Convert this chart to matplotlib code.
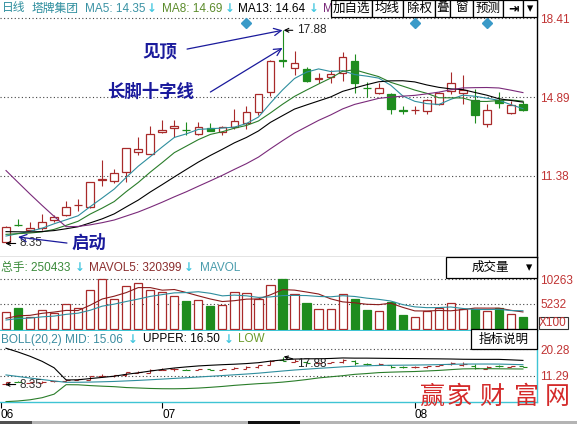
import numpy as np
import pandas as pd
import matplotlib
matplotlib.use("Agg")
import matplotlib.pyplot as plt
from matplotlib.patches import Rectangle

plt.rcParams['font.family'] = ['Liberation Sans', 'Noto Sans CJK SC', 'DejaVu Sans']

# ---------------- data ----------------
# daily OHLC of 塔牌集团 (visible window)
opens = [8.43, 9.19, 8.95, 9.03, 9.40, 9.62, 10.05, 9.99, 11.21, 11.14, 11.56, 12.43, 12.35, 13.32, 13.53,
         13.43, 13.23, 13.50, 13.33, 13.57, 13.72, 14.21, 15.11, 16.55, 16.18, 16.15, 15.72, 15.81, 15.98,
         16.52, 15.30, 15.09, 15.03, 14.30, 14.31, 14.29, 14.57, 15.18, 15.06, 14.76, 13.68, 14.76, 14.17, 14.58]
highs = [9.13, 9.44, 9.32, 9.65, 9.62, 10.25, 10.33, 11.11, 12.08, 11.68, 12.63, 13.10, 13.60, 13.87, 13.89,
         13.79, 13.79, 13.75, 13.59, 14.35, 14.50, 15.03, 16.53, 17.88, 16.95, 16.25, 15.96, 16.10, 16.90,
         16.82, 15.58, 15.54, 15.08, 14.51, 14.51, 14.81, 15.12, 16.00, 15.88, 15.24, 14.57, 15.11, 14.72, 14.72]
lows = [8.35, 9.15, 8.91, 8.95, 9.31, 9.59, 9.80, 9.93, 10.92, 11.05, 11.11, 12.31, 12.33, 13.29, 13.09,
        13.20, 13.20, 13.36, 13.20, 13.47, 13.47, 14.09, 14.94, 16.23, 15.88, 15.55, 15.54, 15.51, 15.63,
        15.09, 14.88, 15.02, 14.13, 14.14, 14.13, 14.13, 14.55, 15.03, 14.57, 13.72, 13.54, 14.42, 14.16, 14.27]
closes = [9.10, 9.17, 9.06, 9.30, 9.52, 9.99, 10.08, 11.09, 11.24, 11.51, 12.61, 12.57, 13.23, 13.42, 13.62,
          13.41, 13.57, 13.38, 13.57, 13.83, 14.21, 15.02, 16.51, 16.49, 16.40, 15.63, 15.74, 15.93, 16.67,
          15.54, 15.28, 15.29, 14.35, 14.28, 14.33, 14.76, 15.09, 15.51, 15.21, 14.09, 14.32, 14.62, 14.54, 14.32]
# closes before the window (unadjusted, before ex-rights) used to seed the averages
prior_closes = [19.73, 19.53, 19.43, 19.33, 19.23, 9.83, 9.69, 9.28, 9.13, 9.05, 8.98, 8.93, 8.91, 8.85,
                8.89, 8.63, 8.55, 8.61, 8.53]

# volume in units of 100 lots
volumes = [3483, 4420, 2587, 3890, 3280, 5174, 4298, 8026, 10180, 6131, 8841, 9391, 8026, 7557, 6804,
           5785, 5989, 4828, 4970, 7680, 7354, 6193, 9044, 10263, 7150, 5439, 4155, 4155, 7150, 6193,
           3952, 3748, 5642, 2933, 2587, 3809, 4298, 5317, 4155, 4155, 3748, 4298, 3076, 2504]
prior_volumes = [1500, 1600, 1450, 1700, 1650, 1900, 2050, 1850, 2000]

price_ticks = [18.41, 14.89, 11.38]
volume_ticks = [10263, 5232]
boll_ticks = [20.28, 11.29]
month_ticks = [-0.42, 13, 34]
month_labels = ['06', '07', '08']
event_days = [20, 34, 40]

# ---------------- colours ----------------
RED = '#a82a2a'
GREEN = '#1e8c1e'
AX_RED = '#c03434'
TEAL = '#2e8e9e'
MA8_GREEN = '#2a7d2a'
PURPLE = '#7a2a7a'
NOTE_BLUE = '#1a1a9c'
CYAN = '#3fc4d4'
ARROW_CYAN = '#46c8e0'

n = len(closes)
idx = np.arange(n)
o_arr, h_arr, l_arr, c_arr = map(np.asarray, (opens, highs, lows, closes))
up = c_arr >= o_arr

full_close = pd.Series(prior_closes + closes, dtype=float)
ma = {p: full_close.rolling(p).mean().to_numpy()[-n:] for p in (5, 8, 13, 20)}
std20 = full_close.rolling(20).std(ddof=0).to_numpy()[-n:]
boll_mid = ma[20]
boll_up = boll_mid + 2 * std20
boll_low = boll_mid - 2 * std20

full_vol = pd.Series(prior_volumes + volumes, dtype=float)
mavol5 = full_vol.rolling(5).mean().to_numpy()[-n:]
mavol10 = full_vol.rolling(10).mean().to_numpy()[-n:]

# ---------------- figure ----------------
W, H = 577, 424
fig = plt.figure(figsize=(W / 100, H / 100), dpi=100)
fig.patch.set_facecolor('white')


def add_axes_px(x0, y0, x1, y1):
    return fig.add_axes([x0 / W, 1 - y1 / H, (x1 - x0) / W, (y1 - y0) / H])


def ftext(px, py, s, **kw):
    kw.setdefault('va', 'center')
    kw.setdefault('ha', 'left')
    kw.setdefault('fontsize', 8.5)
    return fig.text(px / W, 1 - py / H, s, **kw)


def fbox(x0, y0, x1, y1, **kw):
    r = Rectangle((x0 / W, 1 - y1 / H), (x1 - x0) / W, (y1 - y0) / H,
                  transform=fig.transFigure, **kw)
    fig.add_artist(r)
    return r


XLIM = (-0.5, 44.17)
BW = 0.64


def style_axes(ax, ticks, labels, right_color='black', bottom_color='black'):
    ax.set_xlim(*XLIM)
    for s in ('top', 'left'):
        ax.spines[s].set_visible(False)
    ax.spines['right'].set_color(right_color)
    ax.spines['right'].set_linewidth(1.0)
    ax.spines['bottom'].set_color(bottom_color)
    ax.spines['bottom'].set_linewidth(1.0)
    ax.yaxis.tick_right()
    ax.set_yticks(ticks)
    ax.set_yticklabels(labels)
    ax.tick_params(axis='y', length=0, pad=2.2, labelsize=8.5, labelcolor=AX_RED)
    ax.set_xticks([])
    for t in ticks:
        ax.axhline(t, color='#444444', lw=0.8, ls=(0, (1, 2.2)), zorder=1)


# ---- price panel ----
ax = add_axes_px(0, 0, 537, 257)
ax.set_ylim(7.746, 19.234)
style_axes(ax, price_ticks, [f'{t:.2f}' for t in price_ticks], bottom_color='#7a7a7a')

for i in idx:
    col = RED if up[i] else GREEN
    top, bot = max(o_arr[i], c_arr[i]), min(o_arr[i], c_arr[i])
    ax.vlines(i, l_arr[i], bot, color=col, lw=0.8, zorder=3)
    ax.vlines(i, top, h_arr[i], color=col, lw=0.8, zorder=3)
    ax.add_patch(Rectangle((i - BW / 2, bot), BW, max(top - bot, 0.01),
                           facecolor='white' if up[i] else col, edgecolor=col, lw=0.9, zorder=3))

ax.plot(idx, ma[5], color=TEAL, lw=0.8, zorder=4)
ax.plot(idx, ma[8], color=MA8_GREEN, lw=0.8, zorder=4)
ax.plot(idx, ma[13], color='black', lw=0.8, zorder=4)
ax.plot(idx, ma[20], color=PURPLE, lw=0.8, zorder=4)

ax.plot(event_days, [18.21] * len(event_days), ls='none', marker='D', ms=5.5,
        color='#3a9ac8', zorder=5, clip_on=False)

peak_i = int(np.argmax(h_arr))
low_i = int(np.argmin(l_arr))

ax.annotate(f'{h_arr[peak_i]:.2f}', xy=(peak_i + 0.1, h_arr[peak_i]), xytext=(peak_i + 1.2, h_arr[peak_i]),
            va='center', ha='left', fontsize=8.5, color='#222222', zorder=6,
            arrowprops=dict(arrowstyle='->', color='black', lw=0.8, shrinkA=1, shrinkB=0, mutation_scale=7))
ax.annotate(f'{l_arr[low_i]:.2f}', xy=(low_i - 0.05, l_arr[low_i]), xytext=(low_i + 1.15, l_arr[low_i]),
            va='center', ha='left', fontsize=8.5, color='#333333', zorder=6,
            arrowprops=dict(arrowstyle='->', color='black', lw=0.8, shrinkA=1, shrinkB=0, mutation_scale=7))

note_kw = dict(color=NOTE_BLUE, fontsize=12.5, fontweight='bold', ha='center', va='center',
               family=['Noto Sans CJK SC'], zorder=6)
arrow_kw = dict(arrowstyle='->', color=NOTE_BLUE, lw=0.9, shrinkA=0, shrinkB=0, mutation_scale=13)
ax.text(12.8, 16.91, '见顶', **note_kw)
ax.annotate('', xy=(peak_i, h_arr[peak_i]), xytext=(15.06, 17.04), arrowprops=arrow_kw, zorder=6)
ax.text(12.0, 15.12, '长脚十字线', **note_kw)
ax.annotate('', xy=(peak_i, 17.09), xytext=(17.0, 15.12), arrowprops=arrow_kw, zorder=6)
ax.text(6.9, 8.37, '启动', **note_kw)
ax.annotate('', xy=(1.0, 8.64), xytext=(5.07, 8.37), arrowprops=arrow_kw, zorder=6)

# ---- volume panel ----
axv = add_axes_px(0, 257, 537, 330)
axv.set_ylim(-122, 14748)
style_axes(axv, volume_ticks, [str(t) for t in volume_ticks], bottom_color=CYAN)
axv.bar(idx, volumes, width=0.68,
        color=['white' if u else GREEN for u in up],
        edgecolor=[RED if u else GREEN for u in up], linewidth=0.9, zorder=3)
axv.plot(idx, mavol5, color='#8b1c1c', lw=0.8, zorder=4)
axv.plot(idx, mavol10, color=TEAL, lw=0.8, zorder=4)

# ---- BOLL panel ----
axb = add_axes_px(0, 331, 537, 402)
axb.set_ylim(2.41, 26.55)
style_axes(axb, boll_ticks, [f'{t:.2f}' for t in boll_ticks], right_color=CYAN, bottom_color=CYAN)
for i in idx:
    col = RED if up[i] else GREEN
    axb.vlines(i, l_arr[i], h_arr[i], color=col, lw=0.8, zorder=3)
    axb.hlines(o_arr[i], i - 0.32, i, color=col, lw=0.8, zorder=3)
    axb.hlines(c_arr[i], i, i + 0.32, color=col, lw=0.8, zorder=3)
axb.plot(idx, boll_up, color='black', lw=0.8, zorder=4)
axb.plot(idx, boll_mid, color=TEAL, lw=0.8, zorder=4)
axb.plot(idx, boll_low, color=MA8_GREEN, lw=0.8, zorder=4)
axb.annotate(f'{h_arr[peak_i]:.2f}', xy=(peak_i + 0.1, h_arr[peak_i]), xytext=(peak_i + 1.2, 15.4),
             va='center', ha='left', fontsize=8.5, color='#222222', zorder=6,
             arrowprops=dict(arrowstyle='->', color='black', lw=0.8, shrinkA=1, shrinkB=0, mutation_scale=6))
axb.annotate(f'{l_arr[low_i]:.2f}', xy=(low_i - 0.05, l_arr[low_i]), xytext=(low_i + 1.15, l_arr[low_i]),
             va='center', ha='left', fontsize=8.5, color='#333333', zorder=6,
             arrowprops=dict(arrowstyle='->', color='black', lw=0.8, shrinkA=1, shrinkB=0, mutation_scale=6))

axb.set_xticks(month_ticks)
axb.set_xticklabels(month_labels)
axb.tick_params(axis='x', length=4, width=0.8, color='black', pad=1.2, labelsize=8.5, labelcolor='black')
for lab in axb.get_xticklabels():
    lab.set_ha('left')

# ---------------- header texts ----------------
ftext(1.5, 8.5, '日线', color=TEAL)
ftext(31.5, 8.5, '塔牌集团', color=TEAL)
ftext(85, 8.5, 'MA5: 14.35', color='#3a92a4')
ftext(146.5, 8.5, '↓', color=ARROW_CYAN, fontweight='bold', family=['DejaVu Sans'])
ftext(161.5, 8.5, 'MA8: 14.69', color='#5c8c2c')
ftext(224.5, 8.5, '↓', color=ARROW_CYAN, fontweight='bold', family=['DejaVu Sans'])
ftext(238, 8.5, 'MA13: 14.64', color='black')
ftext(308.5, 8.5, '↓', color=ARROW_CYAN, fontweight='bold', family=['DejaVu Sans'])
ftext(323, 8.5, 'M', color=PURPLE)

# toolbar buttons
edges = [330.7, 371.7, 403.3, 435, 450, 472.7, 503.3, 523.3, 536.7]
names = ['加自选', '均线', '除权', '叠', '窗', '预测', '⇥', '▾']
for k, name in enumerate(names):
    x0, x1 = edges[k], edges[k + 1]
    fbox(x0, 0, x1, 16.7, facecolor='white', edgecolor='black', lw=0.9, zorder=5)
    kw = dict(ha='center', fontsize=9, color='black', zorder=6)
    if name in ('⇥', '▾'):
        kw.update(family=['DejaVu Sans'], fontweight='bold')
    ftext((x0 + x1) / 2, 8.5, name, **kw)

ftext(1, 267.7, '总手: 250433', color='#3a8a3a')
ftext(74.5, 267.7, '↓', color=ARROW_CYAN, fontweight='bold', family=['DejaVu Sans'])
ftext(89.3, 267.7, 'MAVOL5: 320399', color='#8a2c2c')
ftext(184, 267.7, '↓', color=ARROW_CYAN, fontweight='bold', family=['DejaVu Sans'])
ftext(200, 267.7, 'MAVOL', color='#4a9cac')

fbox(446, 257, 537, 277.5, facecolor='white', edgecolor='black', lw=0.9, zorder=5)
ftext(490.5, 267.5, '成交量', ha='center', fontsize=9, color='black', zorder=6)
ftext(529.3, 267.5, '▾', ha='center', fontsize=9, color='black', family=['DejaVu Sans'], zorder=6)
fbox(538.5, 316.5, 567.5, 329.3, facecolor='white', edgecolor='#333333', lw=0.8, zorder=5)
ftext(553, 323, 'X100', ha='center', color=AX_RED, zorder=6)

ftext(1, 339.5, 'BOLL(20,2) MID: 15.06', color='#3a8ca0')
ftext(128, 339.5, '↓', color=ARROW_CYAN, fontweight='bold', family=['DejaVu Sans'])
ftext(142.7, 339.5, 'UPPER: 16.50', color='black')
ftext(224, 339.5, '↓', color=ARROW_CYAN, fontweight='bold', family=['DejaVu Sans'])
ftext(237.7, 339.5, 'LOW', color='#6a9a2a')

fbox(471, 328.5, 537, 348.5, facecolor='white', edgecolor='black', lw=0.9, zorder=5)
ftext(504, 339.5, '指标说明', ha='center', fontsize=9, color='black', zorder=6)

# bottom tab strip
fbox(0, 421, 577, 424, facecolor='#b4b4b4', edgecolor='none', zorder=5)
fbox(0, 421, 32, 424, facecolor='#505050', edgecolor='none', zorder=5)
fbox(248, 421, 300, 424, facecolor='#111111', edgecolor='none', zorder=5)

# site mark, one glyph at a time for wider spacing
for ch, cx in zip('赢家财富网', [432, 459, 492, 526, 557]):
    ftext(cx, 397, ch, ha='center', fontsize=18, color='#d42a2a',
          family=['Noto Sans CJK SC'], zorder=7)

fig.savefig('out.png', dpi=100)
